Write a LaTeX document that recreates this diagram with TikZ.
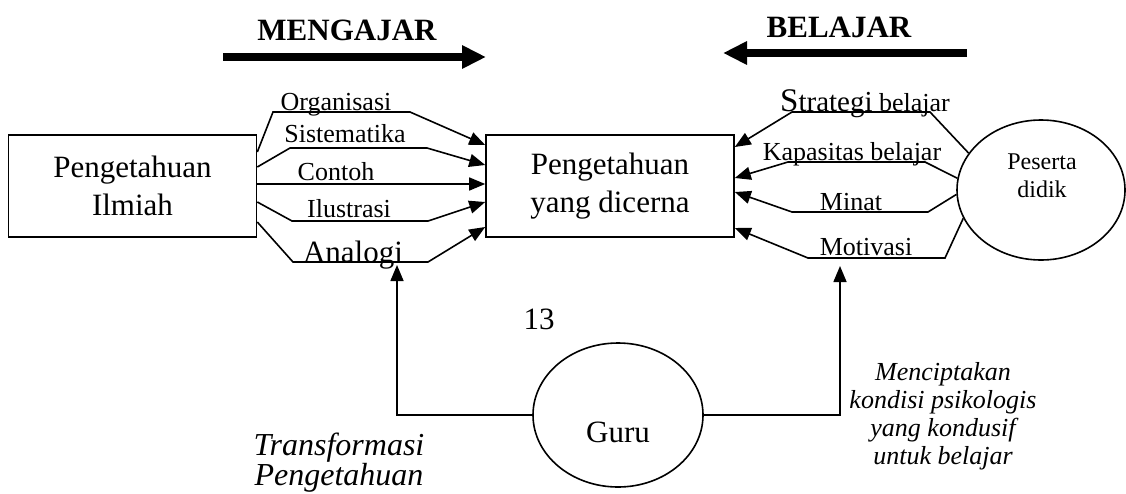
\documentclass[tikz,border=0pt]{standalone}
\usepackage{fontspec}
\setmainfont{Liberation Serif}
\usetikzlibrary{arrows.meta, shapes.geometric, calc}

\tikzset{
	box/.style={draw, line width=1.6pt, minimum width=248pt, minimum height=102pt, align=center, font=\fontsize{31}{38}\selectfont},
	actor/.style={draw, ellipse, line width=1.6pt, inner sep=0pt},
	lbl/.style={anchor=base, inner sep=0pt, font=\fontsize{26}{28}\selectfont},
	biglbl/.style={anchor=base, inner sep=0pt, font=\fontsize{31}{31}\selectfont},
	note/.style={anchor=north, align=center, inner sep=0pt},
	feed/.style={line width=1.6pt, -{Triangle[length=16pt, width=13pt]}},
	flow/.style={line width=7.5pt, -{Triangle[length=24pt, width=22pt]}},
}

\begin{document}
\begin{tikzpicture}[x=1pt, y=-1pt]
	\useasboundingbox (0,0) rectangle (1126,493);

	% top arrows
	\coordinate (mengajarA) at (223,57);
	\coordinate (mengajarB) at (486,57);
	\coordinate (belajarA) at (967,53);
	\coordinate (belajarB) at (723,53);
	\node [anchor=base, font=\bfseries\fontsize{31}{31}\selectfont] (mengajar) at (347,40) {MENGAJAR};
	\node [anchor=base, font=\bfseries\fontsize{31}{31}\selectfont] (belajar) at (839,37) {BELAJAR};
	\draw [flow] (mengajarA) -- (mengajarB);
	\draw [flow] (belajarA) -- (belajarB);

	% boxes and actors
	\node [box] (ilmiah) at (132.5,186) {Pengetahuan\\Ilmiah};
	\node [box] (cerna) at (610,186) {Pengetahuan\\yang dicerna};
	\node [actor, minimum width=168pt, minimum height=140pt] (peserta) at (1041,190) {};
	\node [note, font=\fontsize{24}{28}\selectfont] (pesertalbl) at (1042,154) {Peserta\\didik};
	\node [actor, minimum width=170pt, minimum height=144pt] (guru) at (618,415) {};
	\node [biglbl] (gurulbl) at (618,442) {Guru};

	% mengajar side
	\node [lbl] (organisasi) at (336,110) {Organisasi};
	\node [lbl] (sistematika) at (345,142) {Sistematika};
	\node [lbl] (contoh) at (336,180) {Contoh};
	\node [lbl] (ilustrasi) at (349,217) {Ilustrasi};
	\node [biglbl] (analogi) at (353,262) {Analogi};

	\draw [feed] ([yshift=34pt]ilmiah.east) -- (273,112) -- (410,112) -- ([yshift=41pt]cerna.west);
	\draw [feed] ([yshift=19pt]ilmiah.east) -- (290,148) -- (427,148) -- ([yshift=21pt]cerna.west);
	\draw [feed] ([yshift=2pt]ilmiah.east) -- ([yshift=2pt]cerna.west);
	\draw [feed] ([yshift=-16pt]ilmiah.east) -- (292,221) -- (428,221) -- ([yshift=-16pt]cerna.west);
	\draw [feed] ([yshift=-36pt]ilmiah.east) -- (293,262) -- (428,262) -- ([yshift=-41pt]cerna.west);

	% belajar side
	\node [lbl] (strategi) at (865,111) {{\fontsize{33}{33}\selectfont S}{\fontsize{29}{29}\selectfont trategi} belajar};
	\node [lbl] (kapasitas) at (852,160) {Kapasitas belajar};
	\node [lbl] (minat) at (851,210) {Minat};
	\node [lbl] (motivasi) at (866,255) {Motivasi};

	\draw [feed] (peserta.153) -- (930,112) -- (792,112) -- ([yshift=39pt]cerna.east);
	\draw [feed] (peserta.172) -- (925,162) -- (788,162) -- ([yshift=8pt]cerna.east);
	\draw [feed] (peserta.183) -- (928,212) -- (792,212) -- ([yshift=-6pt]cerna.east);
	\draw [feed] (peserta.200) -- (945,258) -- (808,258) -- ([yshift=-42pt]cerna.east);

	% guru
	\node [biglbl] (halaman) at (539,329) {13};
	\coordinate (tipL) at (397,265);
	\coordinate (tipR) at (840,266);
	\draw [feed] (guru.west) -| (tipL);
	\draw [feed] (guru.east) -| (tipR);

	\node [note, font=\itshape\fontsize{32}{27}\selectfont] (transformasi) at (339,433) {Transformasi\\Pengetahuan};
	\node [note, font=\itshape\fontsize{26}{28}\selectfont] (kondisi) at (943,362) {Menciptakan\\kondisi psikologis\\yang kondusif\\untuk belajar};
\end{tikzpicture}
\end{document}
